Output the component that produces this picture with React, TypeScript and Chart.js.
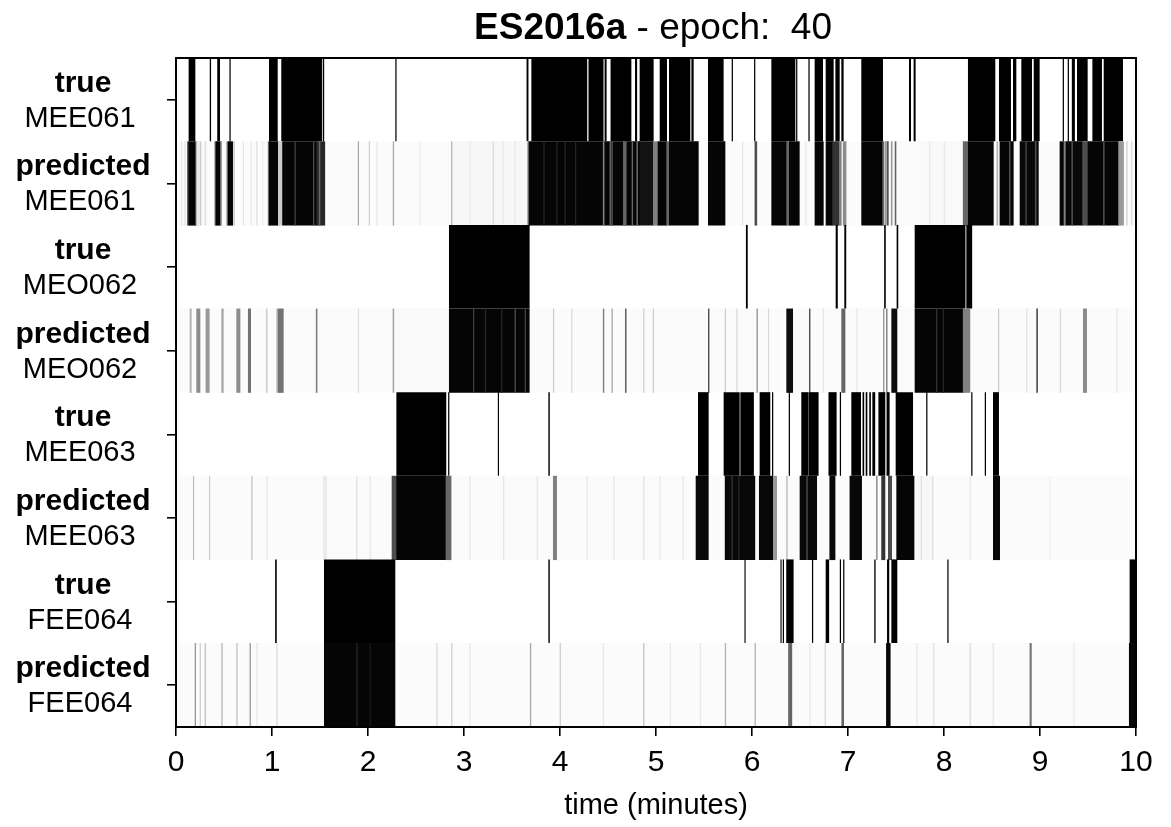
import { useEffect, useRef } from 'react';
import { Chart, registerables } from 'chart.js';

Chart.register(...registerables);

// Speaker-activity segments in minutes. "true" rows are binary [start, end];
// "predicted" rows are [start, end, activation] where activation is 0..1.
type Seg = [number, number];
type Act = [number, number, number];

const FONT = "'Liberation Sans', Arial, sans-serif";
const xTickValues = [0, 1, 2, 3, 4, 5, 6, 7, 8, 9, 10];
const titleBold = 'ES2016a';
const titleRest = ' - epoch:  40';
const xTitle = 'time (minutes)';

const trueMEE061: Seg[] = [
  [0.135, 0.198], [0.355, 0.362], [0.433, 0.455], [0.56, 0.566], [0.972, 1.056],
  [1.1, 1.517], [1.532, 1.54], [2.288, 2.294], [3.655, 3.668], [3.705, 4.28],
  [4.3, 4.45], [4.468, 4.482], [4.53, 4.74], [4.785, 4.8], [4.833, 4.972],
  [5.042, 5.111], [5.139, 5.354], [5.372, 5.389], [5.545, 5.701], [5.792, 5.798],
  [6.025, 6.031], [6.205, 6.448], [6.463, 6.469], [6.591, 6.597], [6.656, 6.736],
  [6.771, 6.847], [6.872, 6.91], [6.934, 6.951], [7.142, 7.361], [7.639, 7.653],
  [7.687, 7.701], [8.253, 8.531], [8.576, 8.694], [8.722, 8.75], [8.809, 8.913],
  [8.938, 8.993], [9.24, 9.246], [9.292, 9.298], [9.335, 9.36], [9.389, 9.493],
  [9.549, 9.642], [9.667, 9.861],
];

const predMEE061: Act[] = [
  [0, 10, 0.015], [0.055, 0.062, 0.1], [0.09, 0.098, 0.1], [0.12, 0.135, 0.75],
  [0.135, 0.205, 0.98], [0.205, 0.215, 0.6], [0.215, 0.235, 0.1], [0.25, 0.26, 0.2],
  [0.3, 0.31, 0.12], [0.405, 0.417, 0.6], [0.417, 0.465, 0.98], [0.465, 0.475, 0.4],
  [0.53, 0.545, 0.6], [0.545, 0.59, 0.98], [0.6, 0.61, 0.2], [0.7, 0.705, 0.1],
  [0.78, 0.785, 0.1], [0.84, 0.846, 0.12], [0.9, 0.905, 0.08], [0.96, 0.972, 0.6],
  [0.972, 1.066, 0.98], [1.066, 1.11, 0.2], [1.11, 1.465, 0.98], [1.238, 1.245, 0.75],
  [1.43, 1.437, 0.7], [1.465, 1.55, 0.85], [1.49, 1.5, 0.6], [1.897, 1.903, 0.35],
  [2.011, 2.016, 0.2], [2.09, 2.095, 0.1], [2.262, 2.268, 0.35], [2.54, 2.545, 0.08],
  [2.87, 3.665, 0.03], [2.869, 2.875, 0.3], [3.06, 3.065, 0.1], [3.3, 3.31, 0.12],
  [3.405, 3.41, 0.1], [3.53, 3.535, 0.1], [3.665, 3.68, 0.6], [3.68, 4.833, 0.98],
  [3.83, 3.836, 0.85], [3.965, 3.971, 0.85], [4.05, 4.056, 0.85], [4.16, 4.166, 0.85],
  [4.45, 4.46, 0.5], [4.52, 4.53, 0.6], [4.54, 4.548, 0.7], [4.66, 4.69, 0.6],
  [4.75, 4.758, 0.6], [4.8, 4.808, 0.55], [4.833, 4.972, 0.93], [4.972, 5.021, 0.5],
  [5.021, 5.111, 0.98], [5.111, 5.139, 0.6], [5.139, 5.441, 0.98], [5.545, 5.719, 0.98],
  [5.9, 5.905, 0.1], [6.03, 6.05, 0.7], [6.205, 6.361, 0.98], [6.361, 6.389, 0.6],
  [6.389, 6.493, 0.98], [6.56, 6.565, 0.1], [6.656, 6.743, 0.98], [6.771, 6.84, 0.98],
  [6.84, 6.91, 0.8], [6.91, 6.93, 0.5], [6.95, 6.98, 0.45], [7.142, 7.361, 0.98],
  [7.361, 7.375, 0.6], [7.39, 7.4, 0.45], [7.41, 7.42, 0.7], [7.45, 7.46, 0.4],
  [7.49, 7.5, 0.6], [7.75, 8.2, 0.025], [7.85, 7.855, 0.1], [8.0, 8.01, 0.08],
  [8.2, 8.253, 0.6], [8.253, 8.514, 0.98], [8.55, 8.56, 0.3], [8.583, 8.722, 0.98],
  [8.68, 8.69, 0.7], [8.792, 8.983, 0.97], [8.85, 8.86, 0.75], [8.95, 8.96, 0.7],
  [9.208, 9.25, 0.98], [9.25, 9.271, 0.5], [9.271, 9.444, 0.97], [9.33, 9.34, 0.7],
  [9.444, 9.5, 0.7], [9.5, 9.819, 0.98], [9.66, 9.67, 0.7], [9.819, 9.87, 0.4],
  [9.9, 9.91, 0.15], [9.95, 9.96, 0.12],
];

const trueMEO062: Seg[] = [
  [2.847, 3.68], [5.94, 5.952], [6.875, 6.89], [6.965, 6.978], [7.38, 7.39],
  [7.51, 7.52], [7.698, 8.22], [8.236, 8.29],
];

const predMEO062: Act[] = [
  [0, 10, 0.015], [0.146, 0.16, 0.3], [0.215, 0.25, 0.45], [0.312, 0.347, 0.4],
  [0.476, 0.493, 0.35], [0.632, 0.667, 0.45], [0.753, 0.778, 0.55], [0.94, 0.95, 0.2],
  [1.049, 1.06, 0.3], [1.065, 1.118, 0.55], [1.46, 1.47, 0.5], [1.898, 1.904, 0.12],
  [2.26, 2.27, 0.35], [2.3, 2.84, 0.025], [2.847, 3.68, 0.98], [3.097, 3.104, 0.75],
  [3.22, 3.227, 0.85], [3.39, 3.397, 0.85], [3.53, 3.537, 0.7], [3.635, 3.642, 0.75],
  [3.93, 3.936, 0.2], [4.12, 4.126, 0.15], [4.45, 4.458, 0.5], [4.54, 4.547, 0.35],
  [4.68, 4.69, 0.6], [4.87, 4.876, 0.2], [4.97, 4.976, 0.2], [5.545, 5.553, 0.7],
  [5.72, 5.726, 0.2], [5.84, 5.846, 0.15], [6.05, 6.058, 0.4], [6.17, 6.176, 0.15],
  [6.361, 6.424, 0.95], [6.597, 6.605, 0.7], [6.74, 6.746, 0.1], [6.934, 6.969, 0.6],
  [7.09, 7.096, 0.1], [7.368, 7.376, 0.4], [7.4, 7.408, 0.5], [7.455, 7.51, 0.95],
  [7.698, 8.2, 0.98], [7.92, 7.927, 0.8], [7.99, 7.997, 0.85], [8.2, 8.27, 0.5],
  [8.566, 8.572, 0.2], [8.86, 8.866, 0.12], [8.965, 8.975, 0.7], [9.21, 9.216, 0.15],
  [9.451, 9.486, 0.45], [9.8, 9.806, 0.1],
];

const trueMEE063: Seg[] = [
  [2.299, 2.812], [2.838, 2.844], [3.356, 3.361], [3.882, 3.89], [5.441, 5.545],
  [5.708, 5.868], [5.882, 6.016], [6.083, 6.187], [6.212, 6.218], [6.386, 6.392],
  [6.517, 6.587], [6.597, 6.69], [6.8, 6.878], [6.918, 6.924], [7.038, 7.132],
  [7.155, 7.165], [7.188, 7.198], [7.225, 7.235], [7.257, 7.28], [7.32, 7.385],
  [7.405, 7.43], [7.5, 7.674], [7.818, 7.824], [8.287, 8.293], [8.428, 8.434],
  [8.514, 8.569],
];

const predMEE063: Act[] = [
  [0, 10, 0.015], [0.18, 0.186, 0.25], [0.347, 0.353, 0.2], [0.788, 0.794, 0.25],
  [0.944, 0.95, 0.1], [1.535, 1.57, 0.08], [1.88, 1.886, 0.12], [2.02, 2.026, 0.1],
  [2.25, 2.299, 0.7], [2.299, 2.812, 0.98], [2.812, 2.865, 0.6], [3.06, 3.066, 0.1],
  [3.41, 3.416, 0.1], [3.76, 3.766, 0.1], [3.93, 3.965, 0.5], [4.28, 4.286, 0.1],
  [4.56, 4.566, 0.1], [4.87, 4.876, 0.12], [5.04, 5.046, 0.1], [5.28, 5.286, 0.1],
  [5.417, 5.545, 0.97], [5.72, 6.03, 0.97], [5.79, 5.797, 0.8], [5.86, 5.867, 0.85],
  [6.076, 6.222, 0.97], [6.222, 6.257, 0.4], [6.361, 6.367, 0.3], [6.5, 6.674, 0.97],
  [6.57, 6.577, 0.7], [6.81, 6.865, 0.97], [7.02, 7.142, 0.97], [7.297, 7.304, 0.5],
  [7.35, 7.385, 0.8], [7.42, 7.455, 0.7], [7.507, 7.688, 0.98], [7.715, 7.89, 0.03],
  [7.76, 7.766, 0.12], [7.88, 7.886, 0.12], [8.27, 8.276, 0.1], [8.514, 8.58, 0.97],
  [9.1, 9.106, 0.05],
];

const trueFEE064: Seg[] = [
  [1.036, 1.046], [1.545, 2.281], [3.882, 3.89], [5.925, 5.93], [6.3, 6.305],
  [6.324, 6.33], [6.36, 6.43], [6.628, 6.634], [6.771, 6.8], [6.918, 6.924],
  [6.953, 6.959], [7.277, 7.284], [7.41, 7.426], [7.455, 7.51], [8.038, 8.044],
  [9.937, 10.0],
];

const predFEE064: Act[] = [
  [0, 10, 0.015], [0.198, 0.205, 0.4], [0.25, 0.256, 0.2], [0.302, 0.308, 0.25],
  [0.476, 0.482, 0.3], [0.632, 0.638, 0.25], [0.77, 0.777, 0.4], [0.84, 0.846, 0.1],
  [1.049, 1.055, 0.15], [1.545, 2.281, 0.98], [1.882, 1.889, 0.85], [2.02, 2.027, 0.9],
  [2.715, 2.721, 0.15], [2.87, 2.876, 0.2], [3.06, 3.066, 0.1], [3.69, 3.697, 0.35],
  [4.0, 4.006, 0.2], [4.45, 4.456, 0.1], [4.87, 4.876, 0.25], [5.146, 5.152, 0.1],
  [5.46, 5.466, 0.1], [5.72, 5.727, 0.3], [6.03, 6.037, 0.3], [6.38, 6.415, 0.6],
  [6.6, 6.606, 0.1], [6.76, 6.766, 0.15], [6.935, 6.955, 0.6], [7.4, 7.44, 0.97],
  [7.715, 7.721, 0.1], [7.89, 7.896, 0.12], [8.27, 8.276, 0.15], [8.51, 8.516, 0.1],
  [8.895, 8.91, 0.55], [9.35, 9.356, 0.08], [9.93, 10.0, 0.98],
];

const asActive = (segs: Seg[]): Act[] => segs.map(([s, e]) => [s, e, 1]);

const rows = [
  { kind: 'true', speaker: 'MEE061', segs: asActive(trueMEE061) },
  { kind: 'predicted', speaker: 'MEE061', segs: predMEE061 },
  { kind: 'true', speaker: 'MEO062', segs: asActive(trueMEO062) },
  { kind: 'predicted', speaker: 'MEO062', segs: predMEO062 },
  { kind: 'true', speaker: 'MEE063', segs: asActive(trueMEE063) },
  { kind: 'predicted', speaker: 'MEE063', segs: predMEE063 },
  { kind: 'true', speaker: 'FEE064', segs: asActive(trueFEE064) },
  { kind: 'predicted', speaker: 'FEE064', segs: predFEE064 },
];

const rowKeys = rows.map((r) => `${r.kind} ${r.speaker}`);

const grey = (a: number) => {
  const v = Math.round(255 * (1 - a));
  return `rgb(${v},${v},${v})`;
};

// Two-line row labels (bold kind over speaker id), chart title and plot frame.
const decorations = {
  id: 'decorations',
  afterDatasetsDraw(chart: any) {
    const { ctx, chartArea } = chart;
    const { left, top, right, bottom } = chartArea;
    ctx.save();
    ctx.strokeStyle = '#000';
    ctx.lineWidth = 2;
    ctx.strokeRect(left, top, right - left, bottom - top);
    ctx.restore();
  },
  afterDraw(chart: any) {
    const { ctx, chartArea, scales } = chart;
    const yScale = scales.y;
    ctx.save();
    ctx.fillStyle = '#000';
    ctx.textAlign = 'center';
    ctx.textBaseline = 'alphabetic';
    rows.forEach((r, i) => {
      const yc = yScale.getPixelForValue(i);
      ctx.font = `bold 30px ${FONT}`;
      ctx.fillText(r.kind, 83, yc - 8);
      ctx.font = `29px ${FONT}`;
      ctx.fillText(r.speaker, 80, yc + 27);
    });
    ctx.textAlign = 'left';
    ctx.font = `bold 37px ${FONT}`;
    const w1 = ctx.measureText(titleBold).width;
    ctx.font = `37px ${FONT}`;
    const w2 = ctx.measureText(titleRest).width;
    const cx = (chartArea.left + chartArea.right) / 2 - 3;
    const x0 = cx - (w1 + w2) / 2;
    ctx.font = `bold 37px ${FONT}`;
    ctx.fillText(titleBold, x0, 39);
    ctx.font = `37px ${FONT}`;
    ctx.fillText(titleRest, x0 + w1, 39);
    ctx.restore();
  },
};

export default function App() {
  const ref = useRef<HTMLCanvasElement>(null);

  useEffect(() => {
    const points: { x: [number, number]; y: string }[] = [];
    const colors: string[] = [];
    rows.forEach((r, i) => {
      r.segs.forEach(([s, e, a]) => {
        points.push({ x: [s, e], y: rowKeys[i] });
        colors.push(grey(a));
      });
    });

    const chart = new Chart(ref.current as HTMLCanvasElement, {
      type: 'bar',
      data: {
        labels: rowKeys,
        datasets: [
          {
            data: points as any,
            backgroundColor: colors,
            borderWidth: 0,
            borderSkipped: false,
            barPercentage: 1,
            categoryPercentage: 1,
          } as any,
        ],
      },
      options: {
        indexAxis: 'y',
        responsive: false,
        animation: false,
        devicePixelRatio: 1,
        layout: { padding: { top: 58, right: 35, bottom: 0, left: 0 } },
        plugins: {
          legend: { display: false },
          tooltip: { enabled: false },
          title: { display: false },
        },
        scales: {
          x: {
            type: 'linear',
            min: 0,
            max: 10,
            afterBuildTicks: (scale: any) => {
              scale.ticks = xTickValues.map((v) => ({ value: v }));
            },
            ticks: {
              color: '#000',
              font: { family: FONT, size: 30 },
              padding: 9,
              maxRotation: 0,
            },
            grid: {
              drawOnChartArea: false,
              drawTicks: true,
              tickLength: 9,
              color: '#000',
              lineWidth: 1.6,
            },
            border: { display: false },
            title: {
              display: true,
              text: xTitle,
              color: '#000',
              font: { family: FONT, size: 29 },
              padding: { top: 0, bottom: 4 },
            },
            afterFit: (scale: any) => {
              scale.height = 100;
            },
          },
          y: {
            type: 'category',
            offset: true,
            ticks: { callback: () => '' },
            grid: {
              offset: false,
              drawOnChartArea: false,
              drawTicks: true,
              tickLength: 9,
              color: '#000',
              lineWidth: 1.6,
            },
            border: { display: false },
            afterFit: (scale: any) => {
              scale.width = 176;
            },
          },
        },
      },
      plugins: [decorations],
    } as any);

    return () => chart.destroy();
  }, []);

  return (
    <div style={{ position: 'fixed', left: 0, top: 0, width: 1171, height: 827, background: '#fff' }}>
      <canvas ref={ref} width={1171} height={827} style={{ display: 'block' }} />
    </div>
  );
}
